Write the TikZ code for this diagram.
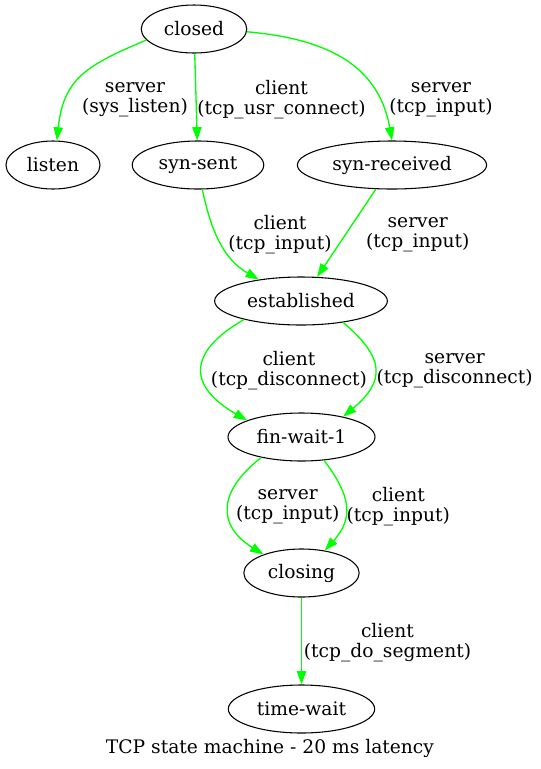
\documentclass[tikz,border=0pt]{standalone}
\usepackage{fontspec}
\setmainfont{DejaVu Serif}
\usetikzlibrary{shapes,arrows.meta}
\tikzset{
        % States
        state_node/.style={ellipse, draw=black, line width=0.8pt, inner xsep=5.4pt, inner ysep=2pt, minimum height=36pt, font=\fontsize{14}{15}\selectfont},
        % Transition labels
        trans_label/.style={align=center, inner sep=0pt, font=\fontsize{14}{15}\selectfont},
        % Transitions
        trans/.style={->, draw=green, line width=1pt}
}

\begin{document}
\begin{tikzpicture}[
            x=0.75pt, y=0.75pt,
            >={Triangle[length=10pt,width=7pt]}
        ]
            \useasboundingbox (0,0) rectangle (541,-769);
            % states
            \node[state_node] (closed) at (194,-29) {closed};
            \node[state_node] (listen) at (53,-165) {listen};
            \node[state_node] (synsent) at (198,-165) {syn-sent};
            \node[state_node] (synrcvd) at (392,-165) {syn-received};
            \node[state_node] (estab) at (301,-301) {established};
            \node[state_node] (finwait) at (301.5,-437) {fin-wait-1};
            \node[state_node] (closing) at (301.5,-573) {closing};
            \node[state_node] (timewait) at (301.5,-709) {time-wait};
            % labels
            \node[trans_label] (l_listen) at (135,-99.5) {server\\(sys\_listen)};
            \node[trans_label] (l_synsent) at (281.5,-99.5) {client\\(tcp\_usr\_connect)};
            \node[trans_label] (l_synrcvd) at (441,-99.5) {server\\(tcp\_input)};
            \node[trans_label] (l_estab_c) at (280,-234.5) {client\\(tcp\_input)};
            \node[trans_label] (l_estab_s) at (417.7,-234.5) {server\\(tcp\_input)};
            \node[trans_label] (l_fin_c) at (289,-370.5) {client\\(tcp\_disconnect)};
            \node[trans_label] (l_fin_s) at (454.7,-370.5) {server\\(tcp\_disconnect)};
            \node[trans_label] (l_closing_s) at (287.7,-506.5) {server\\(tcp\_input)};
            \node[trans_label] (l_closing_c) at (398.3,-506.5) {client\\(tcp\_input)};
            \node[trans_label] (l_timewait) at (387.5,-642.5) {client\\(tcp\_do\_segment)};
            \node[trans_label] (caption) at (270,-748) {TCP state machine - 20 ms latency};
            % transitions
            \draw[trans] (closed.193) to[out=203, in=84, looseness=1.2] (listen.81);
            \draw[trans] (closed) -- (synsent);
            \draw[trans] (closed.357) to[out=-5, in=100, looseness=1.1] (synrcvd.north);
            \draw[trans] (synsent.280) to[out=-78, in=150] (estab.153);
            \draw[trans] (synrcvd) -- (estab);
            \draw[trans] (estab.198) to[out=210, in=150, looseness=1.7] (finwait.163);
            \draw[trans] (estab.333) to[out=-40, in=40, looseness=1.5] (finwait.26);
            \draw[trans] (finwait.207) to[out=218, in=148, looseness=1.45] (closing.154);
            \draw[trans] (finwait.314) to[out=-53, in=48, looseness=1.25] (closing.44);
            \draw[trans] (closing) -- (timewait);
        \end{tikzpicture}
\end{document}
